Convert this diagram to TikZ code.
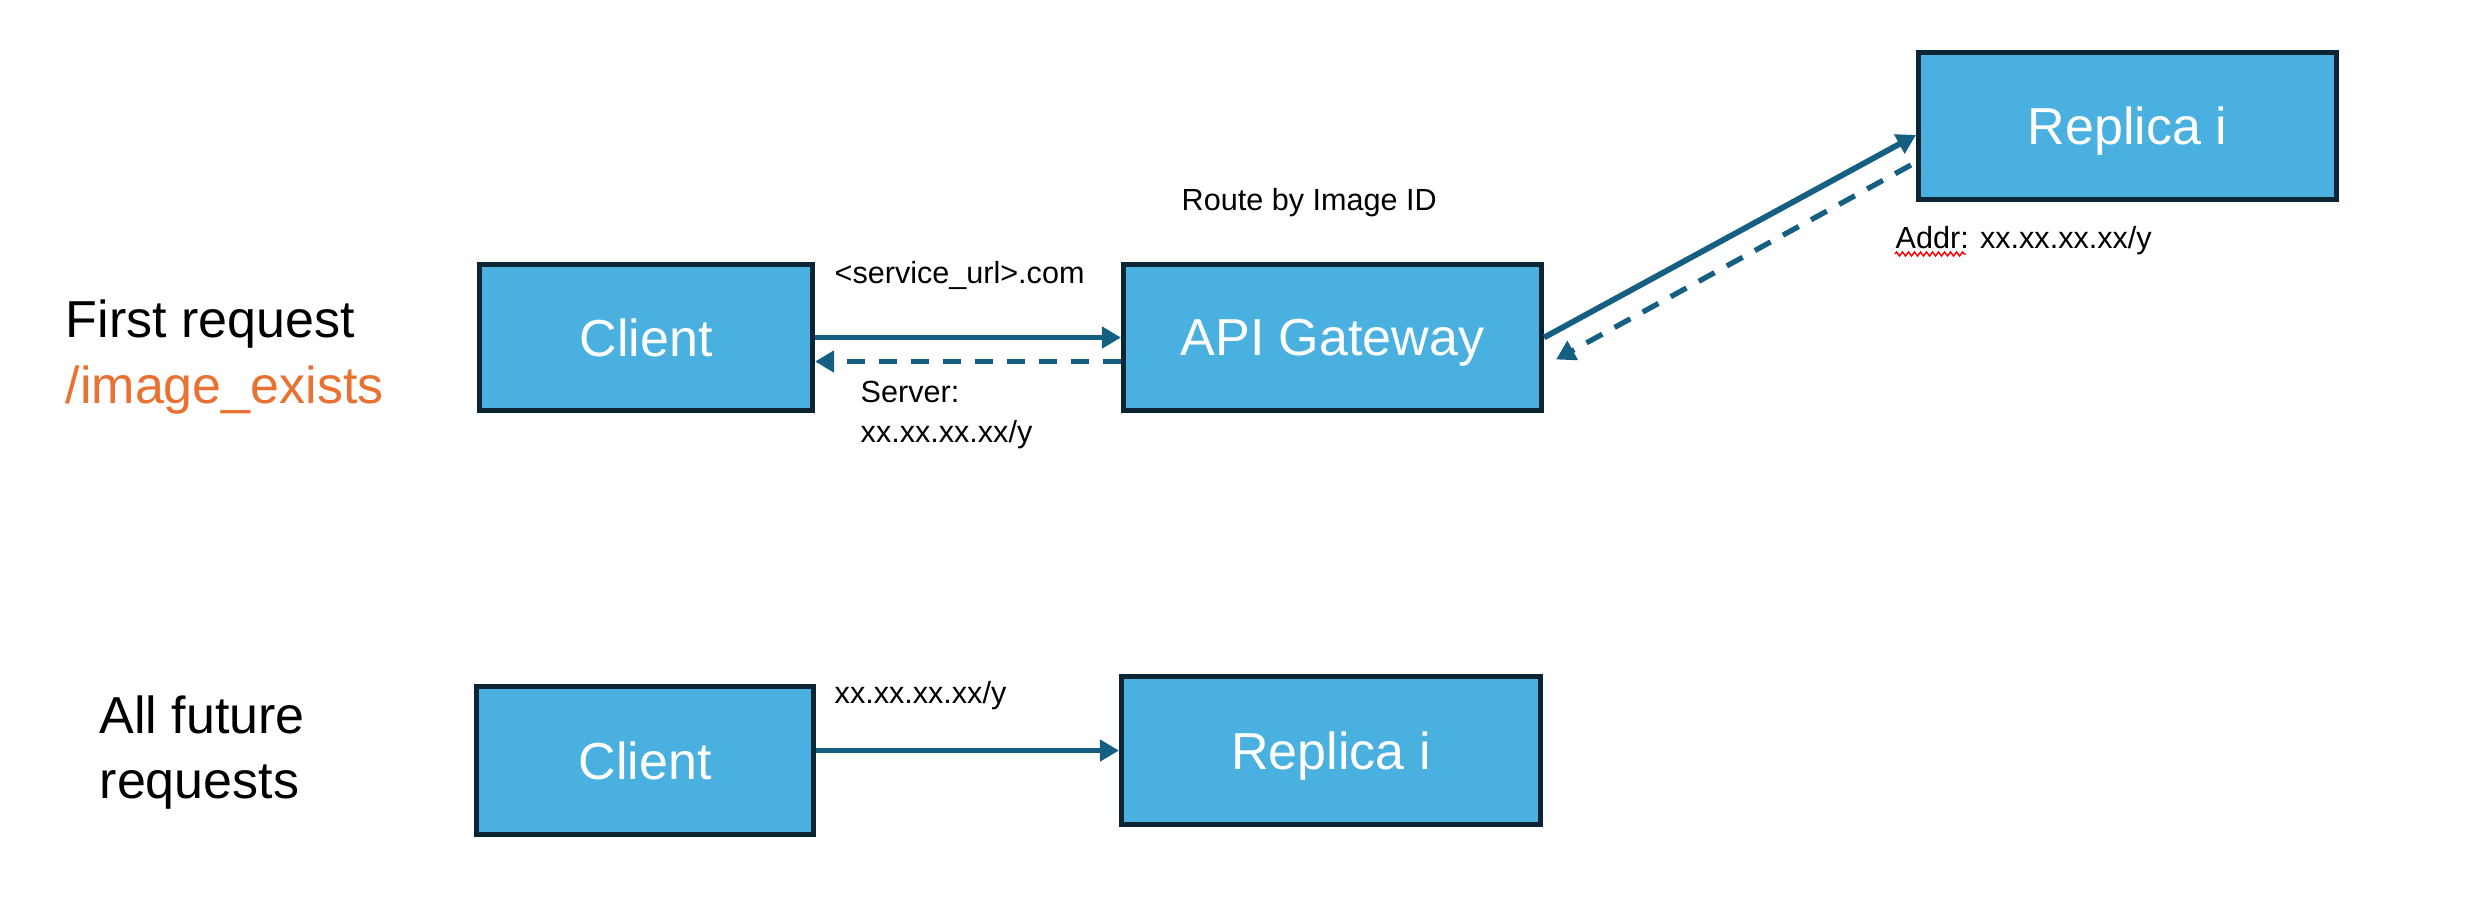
\documentclass[tikz,border=0pt]{standalone}
\usepackage{fontspec}
\setmainfont{Liberation Sans}
\usetikzlibrary{arrows.meta,decorations.pathmorphing}
\definecolor{boxfill}{HTML}{49B0E0}
\definecolor{boxline}{HTML}{0B2535}
\definecolor{arrowc}{HTML}{156082}
\definecolor{orangec}{HTML}{E97132}
\tikzset{
  box/.style={draw=boxline, fill=boxfill, line width=1.45pt, text=white,
    font=\fontsize{14.8}{18}\selectfont, inner sep=0pt, text depth=0pt},
  big/.style={font=\fontsize{14.8}{18}\selectfont, inner sep=0pt, anchor=base west},
  small/.style={font=\fontsize{8.7}{10.5}\selectfont, inner sep=0pt, anchor=base west},
  conn/.style={draw=arrowc, line width=1.65pt, -{Triangle[length=0.19cm,width=0.21cm]}},
  dconn/.style={conn, line width=1.5pt, dash pattern=on 0.18cm off 0.14cm}
}
\begin{document}
\begin{tikzpicture}
\useasboundingbox (0,0) rectangle (24.8,9.02);
% boxes
\node[box, minimum width=3.33cm, minimum height=1.46cm] (client1) at (6.46,5.645) {Client};
\node[box, minimum width=4.18cm, minimum height=1.46cm] (api) at (13.325,5.645) {API Gateway};
\node[box, minimum width=4.18cm, minimum height=1.47cm] (rep1) at (21.275,7.76) {Replica i};
\node[box, minimum width=3.37cm, minimum height=1.48cm] (client2) at (6.45,1.415) {Client};
\node[box, minimum width=4.19cm, minimum height=1.48cm] (rep2) at (13.31,1.515) {Replica i};
% labels
\node[big] (l1) at (0.65,5.65) {First request};
\node[big, text=orangec] (l2) at (0.65,4.99) {/image\_exists};
\node[big] (l3) at (0.99,1.69) {All future};
\node[big] (l4) at (0.99,1.04) {requests};
\node[small] (route) at (11.81,6.92) {Route by Image ID};
\node[small] (svc) at (8.34,6.19) {<service\_url>.com};
\node[small] (srv) at (8.60,5.00) {Server:};
\node[small] (srvaddr) at (8.60,4.60) {xx.xx.xx.xx/y};
\node[small] (addr) at (18.95,6.54) {Addr: xx.xx.xx.xx/y};
\node[small] (addr2) at (8.34,1.99) {xx.xx.xx.xx/y};
% squiggle under Addr
\coordinate (sq1) at (18.95,6.48);
\coordinate (sq2) at (19.66,6.48);
\draw[red, line width=0.4pt, decorate, decoration={zigzag, amplitude=0.02cm, segment length=0.06cm}] (sq1) -- (sq2);
% connectors
\draw[conn] (client1.east) -- (api.west);
\draw[dconn] ([yshift=-0.24cm]api.west) -- ([yshift=-0.24cm]client1.east);
\draw[conn] (api.east) -- ([yshift=-0.09cm]rep1.west);
\draw[dconn] ([xshift=-0.05cm,yshift=-0.39cm]rep1.west) -- ([xshift=0.12cm,yshift=-0.22cm]api.east);
\draw[conn] (rep2.west -| client2.east) -- (rep2.west);
\end{tikzpicture}
\end{document}
